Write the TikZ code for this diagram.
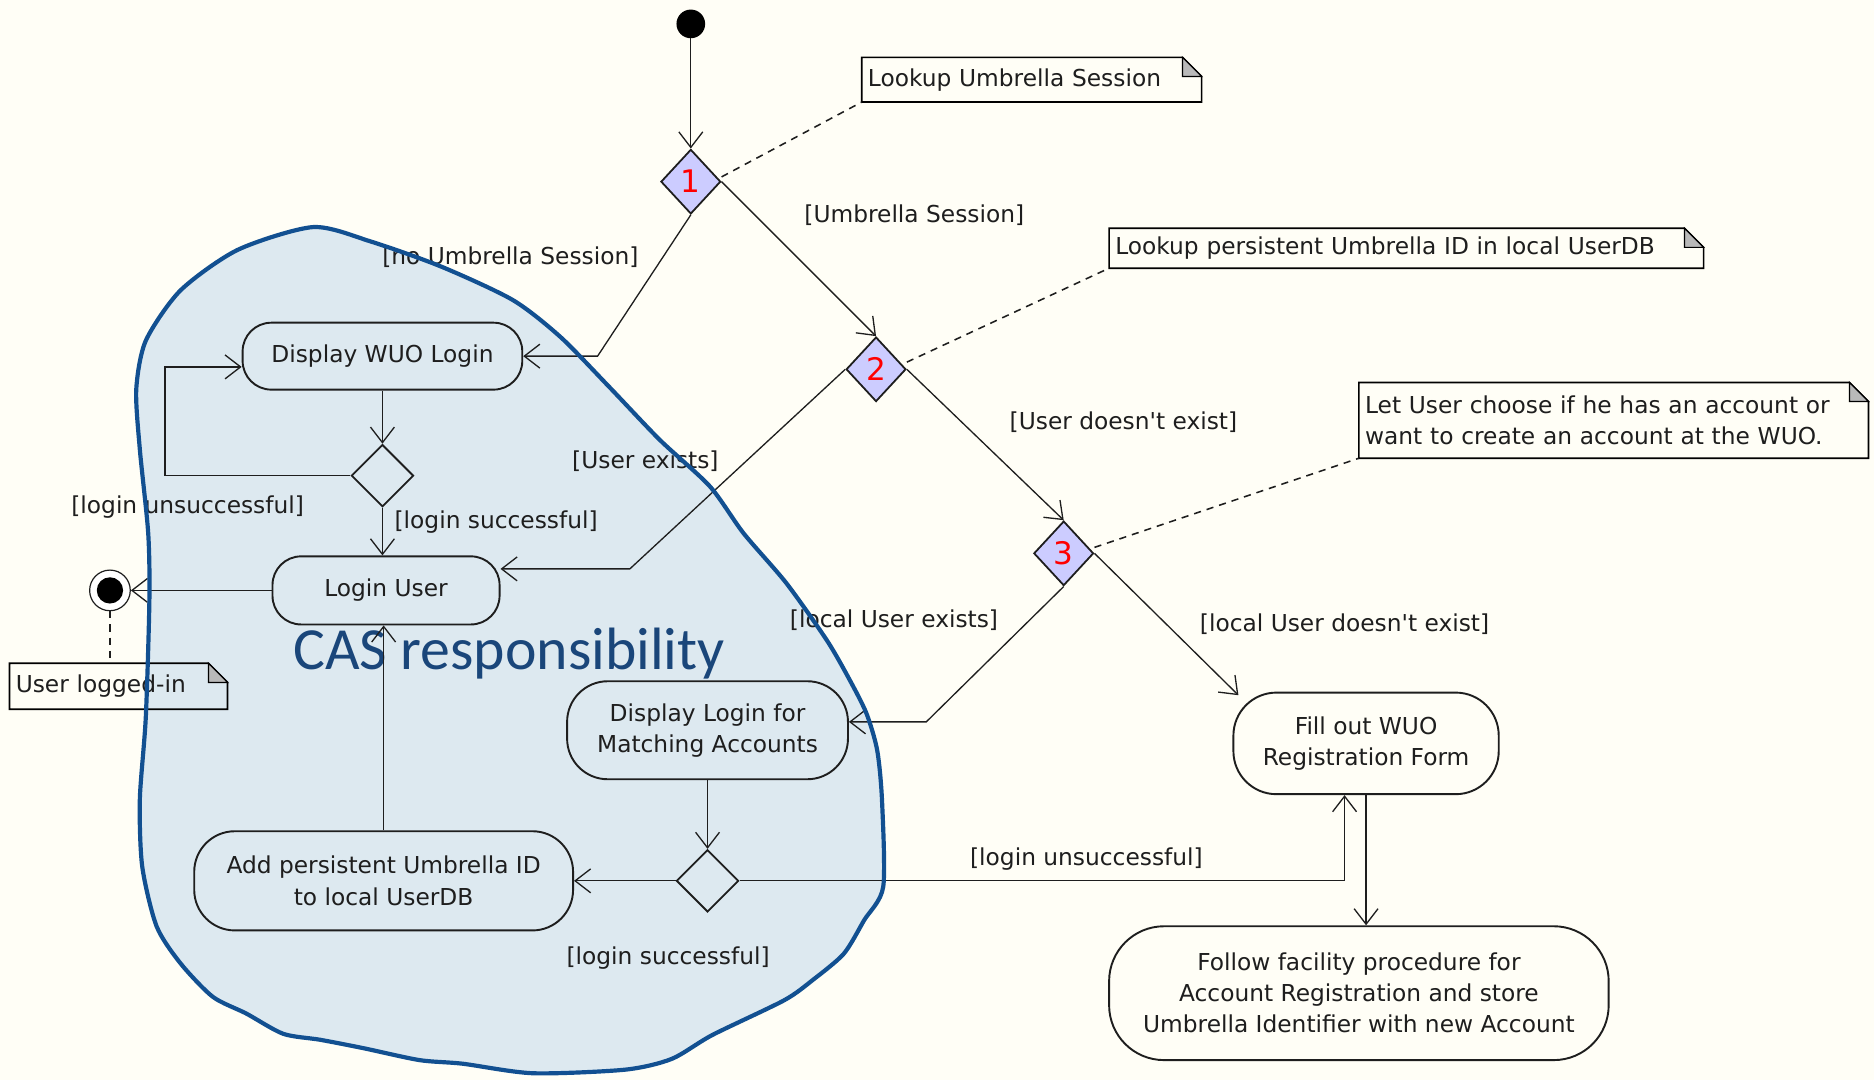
\documentclass[tikz,border=0pt]{standalone}
\usepackage{fontspec}
\setmainfont{DejaVu Sans}[Ligatures=TeXOff]
\newfontfamily\casfont{Carlito}
\usetikzlibrary{arrows.meta,shapes.geometric,calc}
\definecolor{bg}{RGB}{255,254,246}
\definecolor{blobfill}{RGB}{221,233,240}
\definecolor{blobline}{RGB}{18,80,145}
\definecolor{castext}{RGB}{26,70,122}
\definecolor{decfill}{RGB}{204,204,255}
\definecolor{foldgray}{RGB}{185,185,185}
\definecolor{ink}{RGB}{30,30,30}
\newcommand\umlnotedraw[1]{%
  \draw[line width=1.4pt] (#1.south west) -- (#1.north west) -- ([xshift=-16pt]#1.north east) -- ([yshift=-16pt]#1.north east) -- (#1.south east) -- cycle;
  \filldraw[fill=foldgray, line width=1pt] ([xshift=-16pt]#1.north east) -- ([xshift=-16pt,yshift=-16pt]#1.north east) -- ([yshift=-16pt]#1.north east) -- cycle;}
\newcommand\blobpath{plot[smooth cycle, tension=0.45] coordinates {
 (262,190) (310,202) (369,223) (429,251) (469,282) (510,324) (552,368) (594,407) (622,446) (658,488) (692,536) (711,569) (725,597) (734,628) (738,670) (739,742) (723,770) (706,798) (680,820) (656,837) (596,866) (562,886) (523,895) (446,898) (387,890) (351,887) (304,877) (268,870) (237,865) (206,848) (178,834) (151,806) (131,775) (119,725) (117,669) (122,600) (125,502) (124,446) (117,376) (114,326) (122,285) (151,243) (199,209)}}
\begin{document}
\begin{tikzpicture}[x=1pt,y=-1pt,
  every node/.style={font=\fontsize{19.5}{26}\selectfont, text=ink},
  flow/.style={line width=1.1pt, draw=ink, -{Straight Barb[length=13pt,width=20pt,line width=1.1pt]}},
  notelink/.style={line width=1.3pt, draw=ink, dash pattern=on 6pt off 5pt},
  act/.style={draw=ink, line width=1.6pt, align=center, inner sep=0pt},
  dec/.style={diamond, draw=ink, line width=1.5pt, fill=decfill, minimum width=50pt, minimum height=54pt, inner sep=0pt, text=red, font=\fontsize{26}{26}\selectfont},
  merge/.style={diamond, draw=ink, line width=1.5pt, minimum width=52pt, minimum height=52pt, inner sep=0pt},
  lbl/.style={inner sep=0pt},
  notebox/.style={inner xsep=5pt, inner ysep=0pt, align=left, anchor=north west},
]
\useasboundingbox (0,0) rectangle (1568,904);
\fill[bg] (0,0) rectangle (1568,904);

% CAS blob fill
\fill[blobfill] \blobpath;

\node[font=\casfont\fontsize{50}{50}\selectfont, text=castext, inner sep=0pt] (cas) at (426,547) {CAS responsibility};

% start / final
\node[circle, fill=black, minimum size=24pt, inner sep=0pt] (start) at (578,20) {};
\node[circle, draw=ink, fill=white, line width=1pt, minimum size=34pt, inner sep=0pt] (fin) at (92,494) {};
\node[circle, fill=black, minimum size=22pt, inner sep=0pt] (finc) at (92,494) {};

% decisions
\node[dec] (d1) at (578,152) {1};
\node[dec] (d2) at (733,309) {2};
\node[dec] (d3) at (890,463) {3};
\node[merge] (m1) at (320,398) {};
\node[merge] (m2) at (592,737) {};

% activities
\node[act, minimum width=234pt, minimum height=56pt, rounded corners=24pt] (dwl) at (320,298) {Display WUO Login};
\node[act, minimum width=190pt, minimum height=57pt, rounded corners=24pt] (lu) at (323,494) {Login User};
\node[act, minimum width=235pt, minimum height=82pt, rounded corners=34pt] (dlm) at (592,611) {Display Login for\\Matching Accounts};
\node[act, minimum width=317pt, minimum height=83pt, rounded corners=34pt] (apu) at (321,737) {Add persistent Umbrella ID\\to local UserDB};
\node[act, minimum width=222pt, minimum height=85pt, rounded corners=36pt] (fo) at (1143,622) {Fill out WUO\\Registration Form};
\node[act, minimum width=418pt, minimum height=112pt, rounded corners=46pt] (ff) at (1137,831) {Follow facility procedure for\\Account Registration and store\\Umbrella Identifier with new Account};

% notes
\node[notebox, text width=274pt, minimum height=37pt] (n1) at (721,48) {Lookup Umbrella Session};
\node[notebox, text width=487pt, minimum height=33pt] (n2) at (928,191) {Lookup persistent Umbrella ID in local UserDB};
\node[notebox, text width=416pt, minimum height=63pt] (n3) at (1137,320) {Let User choose if he has an account or\\want to create an account at the WUO.};
\node[notebox, text width=172pt, minimum height=38pt] (n4) at (8,555) {User logged-in};
\umlnotedraw{n1}
\umlnotedraw{n2}
\umlnotedraw{n3}
\umlnotedraw{n4}

% flows
\draw[flow] (start) -- (d1);
\draw[flow] (d1.south) -- (500,298) -- (dwl.east);
\draw[flow] (d1.east) -- (d2.north);
\draw[flow] (d2.east) -- (d3.north);
\draw[flow] (d2.west) -- (527,476) -- ([yshift=18pt]lu.east);
\draw[flow] (d3.south) -- (775,604) -- ([yshift=7pt]dlm.east);
\draw[flow] (d3.east) -- ([xshift=5pt,yshift=-3pt]fo.north west);
\draw[flow] (dwl.south) -- (m1.north);
\draw[flow] (m1.south) -- (m1.south |- lu.north);
\draw[flow] (m1.west) -- (138,398) -- (138,307) -- ([yshift=-9pt]dwl.west);
\draw[flow] (lu.west) -- (fin);
\draw[flow] (dlm.south) -- (m2.north);
\draw[flow] (m2.west) -- (apu.east);
\draw[flow] (apu.north) -- (apu.north |- lu.south);
\draw[flow] (m2.east) -- (1125,737) -- ([xshift=-18pt]fo.south);
\draw[flow] (fo.south) -- (fo.south |- ff.north);

% note links
\draw[notelink] ([yshift=4pt]d1.east) -- (n1.south west);
\draw[notelink] ([yshift=6pt]d2.east) -- (n2.south west);
\draw[notelink] ([yshift=5pt]d3.east) -- (n3.south west);
\draw[notelink] (fin.south) -- (fin.south |- n4.north);

% guard labels
\node[lbl] (g1) at (427,215) {[no Umbrella Session]};
\node[lbl] (g2) at (765,180) {[Umbrella Session]};
\node[lbl] (g3) at (540,386) {[User exists]};
\node[lbl] (g4) at (940,353) {[User doesn't exist]};
\node[lbl] (g5) at (748,519) {[local User exists]};
\node[lbl] (g6) at (1125,522) {[local User doesn't exist]};
\node[lbl] (g7) at (157,424) {[login unsuccessful]};
\node[lbl, anchor=west] (g8) at (330,437) {[login successful]};
\node[lbl] (g9) at (559,802) {[login successful]};
\node[lbl] (g10) at (909,719) {[login unsuccessful]};

% CAS blob border
\draw[blobline, line width=3.5pt, line join=round] \blobpath;
\end{tikzpicture}
\end{document}
